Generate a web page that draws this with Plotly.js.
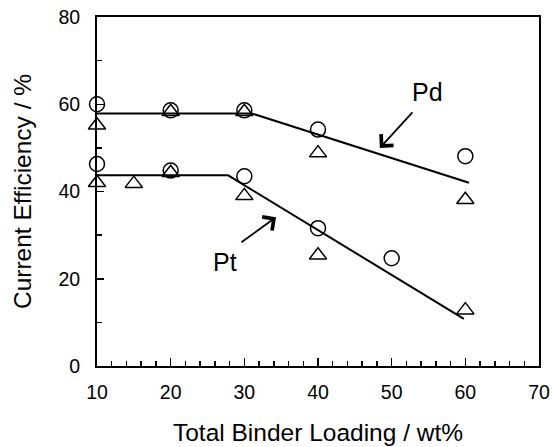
<!DOCTYPE html>
<html>
<head>
<meta charset="utf-8">
<script src="https://cdn.plot.ly/plotly-3.0.1.min.js"></script>
<style>html,body{margin:0;padding:0;background:#fff;}#chart{width:552px;height:447px;}</style>
</head>
<body>
<div id="chart"></div>
<script>
// Pd series
const pdX = [10, 20, 30, 40, 60];
const pdCircle = [60.0, 58.6, 58.6, 54.2, 48.1];
const pdTriangle = [55.2, 58.3, 58.3, 48.8, 38.1];
const pdLineX = [10, 31, 60.5];
const pdLineY = [57.9, 57.9, 42.0];

// Pt series
const ptCircleX = [10, 20, 30, 40, 50];
const ptCircle = [46.3, 44.8, 43.5, 31.6, 24.7];
const ptTriangleX = [10, 15, 20, 30, 40, 60];
const ptTriangle = [42.0, 41.8, 44.3, 39.0, 25.4, 12.8];
const ptLineX = [10, 27.8, 59.8];
const ptLineY = [43.7, 43.7, 10.8];

const xTicks = [10, 20, 30, 40, 50, 60, 70];
const yTicks = [0, 20, 40, 60, 80];

const FONT = 'Liberation Sans, Arial, Helvetica, sans-serif';
const circleMarker = {symbol: 'circle-open', size: 15, color: '#000', line: {width: 1.5, color: '#000'}};
const triMarker = {symbol: 'triangle-up-open', size: 15, color: '#000', line: {width: 1.5, color: '#000'}};

const traces = [
  {x: pdLineX, y: pdLineY, mode: 'lines', line: {color: '#000', width: 2}, cliponaxis: false},
  {x: ptLineX, y: ptLineY, mode: 'lines', line: {color: '#000', width: 2}, cliponaxis: false},
  {x: pdX, y: pdCircle, mode: 'markers', marker: circleMarker, cliponaxis: false},
  {x: pdX, y: pdTriangle, mode: 'markers', marker: triMarker, cliponaxis: false},
  {x: ptCircleX, y: ptCircle, mode: 'markers', marker: circleMarker, cliponaxis: false},
  {x: ptTriangleX, y: ptTriangle, mode: 'markers', marker: triMarker, cliponaxis: false}
];

const layout = {
  width: 552, height: 447,
  margin: {l: 97, r: 13, t: 17, b: 81, pad: 0},
  paper_bgcolor: '#fff', plot_bgcolor: '#fff',
  showlegend: false,
  font: {family: FONT, color: '#000'},
  xaxis: {
    range: [10, 70], tickvals: xTicks, ticktext: xTicks.map(String),
    ticks: 'inside', ticklen: 8, tickwidth: 1.5, tickcolor: '#000',
    minor: {dtick: 2, tick0: 10, ticks: 'inside', ticklen: 5, tickwidth: 1.5, tickcolor: '#000', showgrid: false},
    showline: true, linewidth: 2, linecolor: '#000', mirror: true,
    showgrid: false, zeroline: false,
    tickfont: {size: 19.5, family: FONT, color: '#000'},
    ticklabelstandoff: 8,
    title: {text: 'Total Binder Loading / wt%', font: {size: 24.5, family: FONT, color: '#000'}, standoff: 21},
    automargin: false
  },
  yaxis: {
    range: [0, 80], tickvals: yTicks, ticktext: yTicks.map(String),
    ticks: 'inside', ticklen: 7, tickwidth: 1.5, tickcolor: '#000',
    minor: {dtick: 10, tick0: 0, ticks: 'inside', ticklen: 5, tickwidth: 1.5, tickcolor: '#000', showgrid: false},
    showline: true, linewidth: 2, linecolor: '#000', mirror: true,
    showgrid: false, zeroline: false,
    tickfont: {size: 19.5, family: FONT, color: '#000'},
    ticklabelstandoff: 11,
    title: {text: 'Current Efficiency / %', font: {size: 24.5, family: FONT, color: '#000'}, standoff: 20},
    automargin: false
  },
  annotations: [
    {x: 54.9, y: 62.9, xref: 'x', yref: 'y', text: 'Pd', showarrow: false, font: {size: 25, family: FONT, color: '#000'}},
    {x: 27.4, y: 23.9, xref: 'x', yref: 'y', text: 'Pt', showarrow: false, font: {size: 25, family: FONT, color: '#000'}},
    {x: 48.4, y: 50.0, ax: 53.0, ay: 58.5, xref: 'x', yref: 'y', axref: 'x', ayref: 'y', text: '', showarrow: true, arrowhead: 4, arrowsize: 1.8, arrowwidth: 1.8, arrowcolor: '#000'},
    {x: 34.3, y: 34.1, ax: 29.4, ay: 28.1, xref: 'x', yref: 'y', axref: 'x', ayref: 'y', text: '', showarrow: true, arrowhead: 4, arrowsize: 1.8, arrowwidth: 1.8, arrowcolor: '#000'}
  ]
};

Plotly.newPlot('chart', traces, layout, {displayModeBar: false, staticPlot: true});
</script>
</body>
</html>
